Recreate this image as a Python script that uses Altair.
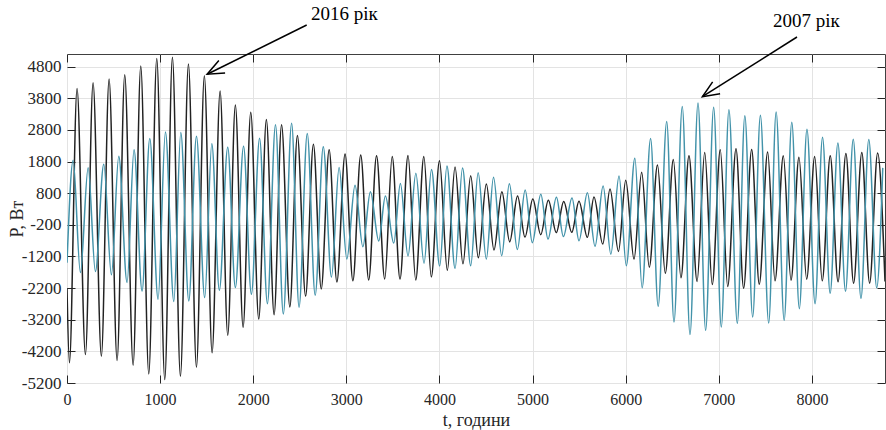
import altair as alt
import pandas as pd

# ---------------- data ----------------
# 2016 (black): weekly peaks and troughs, t in hours, P in W
black_peak_t = [108, 280, 452, 620, 792, 964, 1132, 1304, 1475, 1644,
                1808, 1973, 2141, 2304, 2474, 2646, 2815, 2986, 3154, 3324,
                3492, 3662, 3832, 4000, 4167, 4335, 4503, 4670, 4838, 5002,
                5169, 5334, 5498, 5659, 5831, 6000, 6171, 6341, 6511, 6679,
                6848, 7015, 7184, 7352, 7524, 7692, 7860, 8029, 8196, 8364,
                8535, 8705]
black_peak_p = [4112, 4292, 4409, 4546, 4821, 5054, 5096, 4885, 4514, 4028,
                3590, 3360, 3128, 2960, 2623, 2350, 2170, 2040, 2005, 1980,
                1958, 1994, 1958, 1826, 1630, 1350, 1090, 848, 711, 620,
                573, 540, 545, 680, 930, 1210, 1465, 1693, 1862, 1980,
                2085, 2170, 2205, 2180, 2105, 1980, 1937, 1958, 1980, 2052,
                2090, 2074]
black_trough_t = [26, 198, 369, 538, 710, 878, 1050, 1218, 1390, 1558,
                  1726, 1891, 2059, 2224, 2393, 2562, 2730, 2898, 3070, 3240,
                  3412, 3576, 3745, 3912, 4084, 4252, 4417, 4585, 4754, 4918,
                  5087, 5254, 5420, 5588, 5753, 5922, 6089, 6253, 6425, 6593,
                  6766, 6929, 7095, 7266, 7434, 7603, 7775, 7943, 8110, 8280,
                  8447, 8619]
black_trough_p = [-4563, -4299, -4352, -4489, -4637, -4912, -5092, -4986, -4701, -4246,
                  -3690, -3440, -3180, -3040, -2797, -2453, -2226, -2005, -1968, -1941,
                  -1910, -1915, -1941, -1846, -1635, -1434, -1243, -995, -737, -588,
                  -510, -446, -436, -596, -808, -1040, -1283, -1540, -1729, -1872,
                  -1988, -2084, -2150, -2204, -2077, -1971, -1950, -1918, -1971, -2003,
                  -2045, -2045]
black_ends_t = [0, 8784]
black_ends_p = [-2200, -1990]

# 2007 (teal)
teal_peak_t = [66, 227, 395, 556, 720, 889, 1057, 1222, 1390, 1555,
               1726, 1896, 2068, 2239, 2412, 2580, 2752, 2922, 3093, 3258,
               3419, 3580, 3746, 3914, 4080, 4247, 4415, 4580, 4750, 4920,
               5088, 5256, 5423, 5588, 5757, 5928, 6098, 6267, 6440, 6607,
               6776, 6944, 7108, 7279, 7446, 7615, 7783, 7946, 8113, 8278,
               8443, 8610]
teal_peak_p = [1838, 1605, 1711, 1965, 2176, 2525, 2737, 2716, 2599, 2366,
               2250, 2280, 2540, 2960, 3010, 2686, 2265, 1613, 1050, 848,
               711, 1110, 1430, 1546, 1662, 1598, 1450, 1302, 1102, 900,
               769, 674, 648, 815, 1030, 1345, 1905, 2528, 3066, 3541,
               3648, 3520, 3437, 3246, 3263, 3363, 3041, 2825, 2571, 2390,
               2508, 2496]
teal_trough_t = [144, 305, 477, 645, 806, 978, 1147, 1308, 1479, 1636,
                 1808, 1980, 2152, 2323, 2492, 2665, 2840, 3005, 3177, 3348,
                 3509, 3662, 3834, 4002, 4167, 4335, 4503, 4668, 4836, 4997,
                 5165, 5330, 5498, 5670, 5840, 6006, 6176, 6348, 6518, 6690,
                 6858, 7026, 7198, 7363, 7535, 7701, 7864, 8033, 8195, 8360,
                 8526, 8695]
teal_trough_p = [-1707, -1675, -1781, -2024, -2289, -2553, -2627, -2606, -2500, -2267,
                 -2183, -2394, -2691, -3020, -2802, -2427, -1850, -1280, -895, -710,
                 -778, -1185, -1413, -1503, -1582, -1492, -1280, -1175, -980, -763,
                 -646, -570, -702, -880, -1128, -1490, -2190, -2775, -3273, -3668,
                 -3536, -3431, -3315, -3114, -3304, -3220, -2850, -2691, -2363, -2300,
                 -2522, -2190]
teal_ends_t = [0, 8760]
teal_ends_p = [-1400, 1600]

x_ticks = [0, 1000, 2000, 3000, 4000, 5000, 6000, 7000, 8000]
y_ticks = [-5200, -4200, -3200, -2200, -1200, -200, 800, 1800, 2800, 3800, 4800]

annot_text = ["2016 рік", "2007 рік"]
annot_t = [1505, 6823]
annot_p = [4560, 3850]


def build(ends_t, ends_p, pk_t, pk_p, tr_t, tr_p):
    df = pd.DataFrame({"t": ends_t + pk_t + tr_t, "p": ends_p + pk_p + tr_p})
    return df.sort_values("t").reset_index(drop=True)


black = build(black_ends_t, black_ends_p, black_peak_t, black_peak_p,
              black_trough_t, black_trough_p)
teal = build(teal_ends_t, teal_ends_p, teal_peak_t, teal_peak_p,
             teal_trough_t, teal_trough_p)

# ---------------- styling ----------------
W, H = 818, 329
PAD_L, PAD_T = 67, 54
FONT = "Liberation Serif"
INK = "#262626"
GRID = "#e3e3e3"

xs = alt.Scale(domain=[0, 8784], nice=False, zero=False)
ys = alt.Scale(domain=[-5200, 5200], nice=False, zero=False)

ax_x_main = alt.Axis(values=x_ticks, grid=True, gridColor=GRID, ticks=False, tickSize=0,
                     domain=False, labelFont=FONT, labelFontSize=16, labelColor=INK,
                     labelPadding=8, labelFlush=False, labelOverlap=False,
                     labelExpr="datum.value + ''",
                     title="t, години", titleFont=FONT, titleFontSize=18,
                     titleFontWeight="normal", titleColor=INK, titleY=37,
                     titleBaseline="middle")
ax_y_main = alt.Axis(values=y_ticks, grid=True, gridColor=GRID, ticks=False, tickSize=0,
                     domain=False, labelFont=FONT, labelFontSize=17, labelColor=INK,
                     labelPadding=6, labelFlush=False, labelOverlap=False,
                     labelExpr="datum.value + ''",
                     title="P, Вт", titleFont=FONT, titleFontSize=18,
                     titleFontWeight="normal", titleColor=INK, titleAngle=270,
                     titleX=-50, titleY=H / 2, titleBaseline="middle")


def tick_axis(orient, values):
    return alt.Axis(orient=orient, values=values, grid=False, ticks=True, tickSize=8,
                    tickColor=INK, tickWidth=1, labels=False, domain=False,
                    offset=-8, title="")


line_black = alt.Chart(black).mark_line(color="#222222", strokeWidth=1.5,
                                        interpolate="monotone", clip=True).encode(
    x=alt.X("t:Q", scale=xs, axis=ax_x_main),
    y=alt.Y("p:Q", scale=ys, axis=ax_y_main),
)
line_teal = alt.Chart(teal).mark_line(color="#4393aa", strokeWidth=1.5,
                                      interpolate="monotone", clip=True).encode(
    x=alt.X("t:Q", scale=xs, axis=tick_axis("bottom", x_ticks)),
    y=alt.Y("p:Q", scale=ys, axis=tick_axis("left", y_ticks)),
)

annot = pd.DataFrame({"label": annot_text, "t": annot_t, "p": annot_p})
tails = [(239.7, -29.0), (730.0, -17.0)]
angles = [153.4, 147.5]
text_pos = [(244, -34), (706, -27)]

layers = [line_black, line_teal]
for i in range(2):
    row = annot.iloc[[i]]
    first = i == 0
    rx = alt.X("t:Q", scale=xs, axis=tick_axis("top", x_ticks) if first else None)
    ry = alt.Y("p:Q", scale=ys, axis=tick_axis("right", y_ticks) if first else None)
    rule = alt.Chart(row).mark_rule(color="black", strokeWidth=1.5, clip=False).encode(
        x=rx, y=ry, x2=alt.value(tails[i][0]), y2=alt.value(tails[i][1]))
    head = alt.Chart(row).mark_point(
        shape="M -1 -0.42 L 0 0 L -1 0.42", size=1100, filled=False, stroke="black",
        strokeWidth=1.5, opacity=1, angle=angles[i], clip=False).encode(
        x=alt.X("t:Q", scale=xs, axis=None), y=alt.Y("p:Q", scale=ys, axis=None))
    txt = alt.Chart(row).mark_text(font=FONT, fontSize=19, align="left",
                                   baseline="alphabetic", color="black").encode(
        x=alt.value(text_pos[i][0]), y=alt.value(text_pos[i][1]), text="label:N")
    layers += [rule, head, txt]

chart = alt.layer(*layers).resolve_axis(x="independent", y="independent").properties(
    width=W, height=H,
    padding={"left": PAD_L, "top": PAD_T, "right": 1, "bottom": 47},
    autosize=alt.AutoSizeParams(type="none"),
    background="white",
).configure_view(stroke="#404040", strokeWidth=1)

chart.save("out.html", embed_options={"renderer": "svg", "actions": False})
